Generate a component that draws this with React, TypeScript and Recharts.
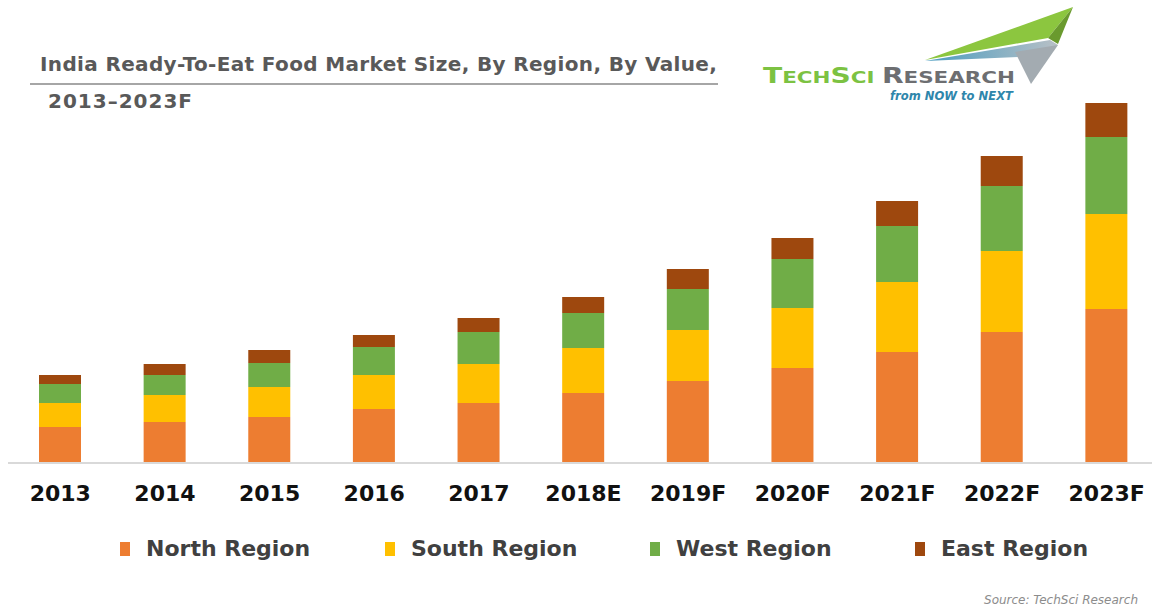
import React from "react";
import { BarChart, Bar, XAxis, YAxis, Legend } from "recharts";

const years = ["2013", "2014", "2015", "2016", "2017", "2018E", "2019F", "2020F", "2021F", "2022F", "2023F"];
const north = [36, 41, 46, 54, 60, 70, 82, 95, 111, 131, 154];
const south = [24, 27, 30, 34, 39, 45, 51, 60, 70, 81, 95];
const west = [19, 20, 24, 28, 32, 35, 41, 49, 56, 65, 77];
const east = [9, 11, 13, 12, 14, 16, 20, 21, 25, 30, 34];

const regions = ["North Region", "South Region", "West Region", "East Region"];
const colors = ["#ED7D31", "#FFC000", "#70AD47", "#9E480E"];
const keys = ["north", "south", "west", "east"];

const data = years.map((year, i) => ({
  year,
  north: north[i],
  south: south[i],
  west: west[i],
  east: east[i],
}));

const font = "'DejaVu Sans', Verdana, sans-serif";

const renderLegend = () => (
  <div
    style={{
      display: "flex",
      paddingLeft: 120,
      fontFamily: font,
      fontWeight: "bold",
      fontSize: 22,
      color: "#404040",
      lineHeight: "26px",
    }}
  >
    {regions.map((r, i) => (
      <div
        key={r}
        style={{ display: "flex", alignItems: "center", width: 265, flexShrink: 0 }}
      >
        <span
          style={{
            display: "inline-block",
            width: 10,
            height: 14,
            background: colors[i],
            marginRight: 16,
          }}
        />
        <span style={{ whiteSpace: "nowrap" }}>{r}</span>
      </div>
    ))}
  </div>
);

const Logo = () => (
  <svg width={1152} height={110} style={{ position: "absolute", left: 0, top: 0 }}>
    <defs>
      <linearGradient id="band" x1="0" y1="0" x2="1" y2="0">
        <stop offset="0" stopColor="#4a9cc0" />
        <stop offset="1" stopColor="#b8c0c6" />
      </linearGradient>
    </defs>
    <polygon points="925,60 1073,7 1048,38" fill="#8cc63f" />
    <polygon points="1048,38 1073,7 1058,44" fill="#6a9a2e" />
    <polygon points="925,61 1050,40 1058,45 1040,56" fill="url(#band)" />
    <polygon points="1015,52 1058,45 1031,84" fill="#a3abb1" />
    <text
      x={763}
      y={83}
      textLength={252}
      lengthAdjust="spacingAndGlyphs"
      fontFamily={font}
      fontWeight="bold"
    >
      <tspan fill="#7cc242" fontSize={21}>T</tspan>
      <tspan fill="#7cc242" fontSize={16}>ECH</tspan>
      <tspan fill="#7cc242" fontSize={21}>S</tspan>
      <tspan fill="#7cc242" fontSize={16}>CI </tspan>
      <tspan fill="#6d6e71" fontSize={21}>R</tspan>
      <tspan fill="#6d6e71" fontSize={16}>ESEARCH</tspan>
    </text>
    <text
      x={890}
      y={100}
      fontFamily={font}
      fontStyle="italic"
      fontWeight="bold"
      fontSize={12}
      fill="#2e86ab"
      textLength={123}
      lengthAdjust="spacingAndGlyphs"
    >
      from NOW to NEXT
    </text>
  </svg>
);

export default function App() {
  return (
    <div
      style={{
        position: "absolute",
        left: 0,
        top: 0,
        width: 1152,
        height: 611,
        overflow: "hidden",
        background: "#fff",
      }}
    >
      <BarChart
        width={1170}
        height={611}
        data={data}
        margin={{ top: 103, right: 11, bottom: 108, left: 8 }}
        barSize={42}
      >
        <XAxis
          dataKey="year"
          height={40}
          tickLine={false}
          tickSize={0}
          tickMargin={22}
          axisLine={{ stroke: "#d9d9d9", strokeWidth: 2 }}
          tick={{ fill: "#111", fontSize: 22, fontWeight: "bold", fontFamily: font }}
          interval={0}
        />
        <YAxis hide domain={[0, 360]} />
        <Legend
          layout="horizontal"
          verticalAlign="middle"
          align="center"
          content={renderLegend}
          wrapperStyle={{ top: 536, left: 0, width: 1152 }}
        />
        {keys.map((k, i) => (
          <Bar
            key={k}
            dataKey={k}
            name={regions[i]}
            stackId="a"
            fill={colors[i]}
            isAnimationActive={false}
          />
        ))}
      </BarChart>

      <div
        style={{
          position: "absolute",
          left: 40,
          top: 52,
          fontFamily: font,
          fontWeight: "bold",
          fontSize: 20,
          color: "#595959",
          whiteSpace: "nowrap",
          letterSpacing: 0.35,
        }}
      >
        India Ready-To-Eat Food Market Size, By Region, By Value,
      </div>
      <div
        style={{
          position: "absolute",
          left: 30,
          top: 83,
          width: 688,
          height: 2,
          background: "#a6a6a6",
        }}
      />
      <div
        style={{
          position: "absolute",
          left: 48,
          top: 89,
          fontFamily: font,
          fontWeight: "bold",
          fontSize: 20,
          color: "#595959",
          letterSpacing: 1,
        }}
      >
        2013–2023F
      </div>
      <Logo />
      <div
        style={{
          position: "absolute",
          right: 14,
          top: 593,
          fontFamily: font,
          fontStyle: "italic",
          fontSize: 12,
          color: "#8c8c8c",
        }}
      >
        Source: TechSci Research
      </div>
    </div>
  );
}
